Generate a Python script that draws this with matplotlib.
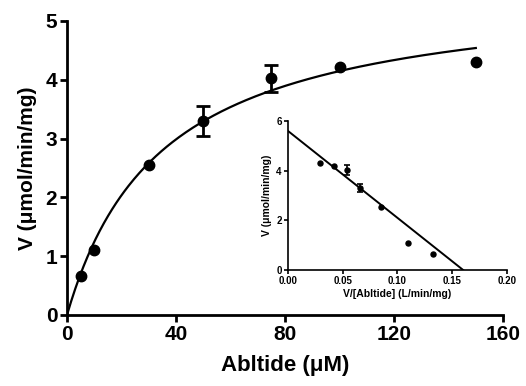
import numpy as np
import matplotlib.pyplot as plt

# data
conc = [5, 10, 30, 50, 75, 100, 150]
rate = [0.66, 1.1, 2.55, 3.3, 4.03, 4.22, 4.3]
rate_err = [0, 0, 0, 0.25, 0.23, 0, 0]

# Eadie-Hofstee inset
ratio = [0.029, 0.042, 0.054, 0.066, 0.085, 0.110, 0.132]
v_inset = [4.3, 4.2, 4.03, 3.3, 2.55, 1.1, 0.66]
v_inset_err = [0, 0, 0.2, 0.17, 0, 0, 0]

# Michaelis-Menten fit parameters
vmax = 5.6
km = 35.0

plt.rcParams['font.family'] = ['Liberation Sans', 'DejaVu Sans']
plt.rcParams['font.weight'] = 'bold'


def with_err(x, y, err):
    keep = [i for i, e in enumerate(err) if e > 0]
    return [x[i] for i in keep], [y[i] for i in keep], [err[i] for i in keep]


fig = plt.figure(figsize=(5.26, 3.86), dpi=100)
ax = fig.add_axes([0.1274, 0.184, 0.829, 0.7616])

xfit = np.linspace(0, 150, 300)
ax.plot(xfit, vmax * xfit / (km + xfit), color='black', lw=1.6)
ax.plot(conc, rate, 'o', color='black', ms=7.5)
ex, ey, ee = with_err(conc, rate, rate_err)
ax.errorbar(ex, ey, yerr=ee, fmt='none', ecolor='black',
            capsize=5, elinewidth=2, capthick=2)

ax.set_xlim(0, 160)
ax.set_ylim(0, 5)
ax.set_xticks([0, 40, 80, 120, 160])
ax.set_yticks([0, 1, 2, 3, 4, 5])
for s in ['top', 'right']:
    ax.spines[s].set_visible(False)
for s in ['left', 'bottom']:
    ax.spines[s].set_linewidth(2)
ax.tick_params(width=2, length=5, labelsize=15, pad=2)
ax.set_xlabel('Abltide (\u03bcM)', fontsize=16, fontweight='bold', labelpad=8)
ax.set_ylabel('V (\u03bcmol/min/mg)', fontsize=15, fontweight='bold', labelpad=6)

# inset
ins = fig.add_axes([0.5475, 0.3005, 0.4163, 0.386])
ins.plot([0, vmax / km], [vmax, 0], color='black', lw=1.4)
ins.plot(ratio, v_inset, 'o', color='black', ms=3.6)
ex, ey, ee = with_err(ratio, v_inset, v_inset_err)
ins.errorbar(ex, ey, yerr=ee, fmt='none', ecolor='black',
             capsize=2.5, elinewidth=1.2, capthick=1.2)
ins.set_xlim(0, 0.2)
ins.set_ylim(0, 6)
ins.set_xticks([0, 0.05, 0.10, 0.15, 0.20])
ins.set_xticklabels(['0.00', '0.05', '0.10', '0.15', '0.20'])
ins.set_yticks([0, 2, 4, 6])
ins.patch.set_alpha(0)
for s in ['top', 'right']:
    ins.spines[s].set_visible(False)
for s in ['left', 'bottom']:
    ins.spines[s].set_linewidth(1.2)
ins.tick_params(width=1.2, length=3, labelsize=7, pad=1.5)
ins.set_xlabel('V/[Abltide] (L/min/mg)', fontsize=7.5, fontweight='bold', labelpad=2)
ins.set_ylabel('V (\u03bcmol/min/mg)', fontsize=7.5, fontweight='bold', labelpad=3)

fig.savefig('out.png', dpi=100)
